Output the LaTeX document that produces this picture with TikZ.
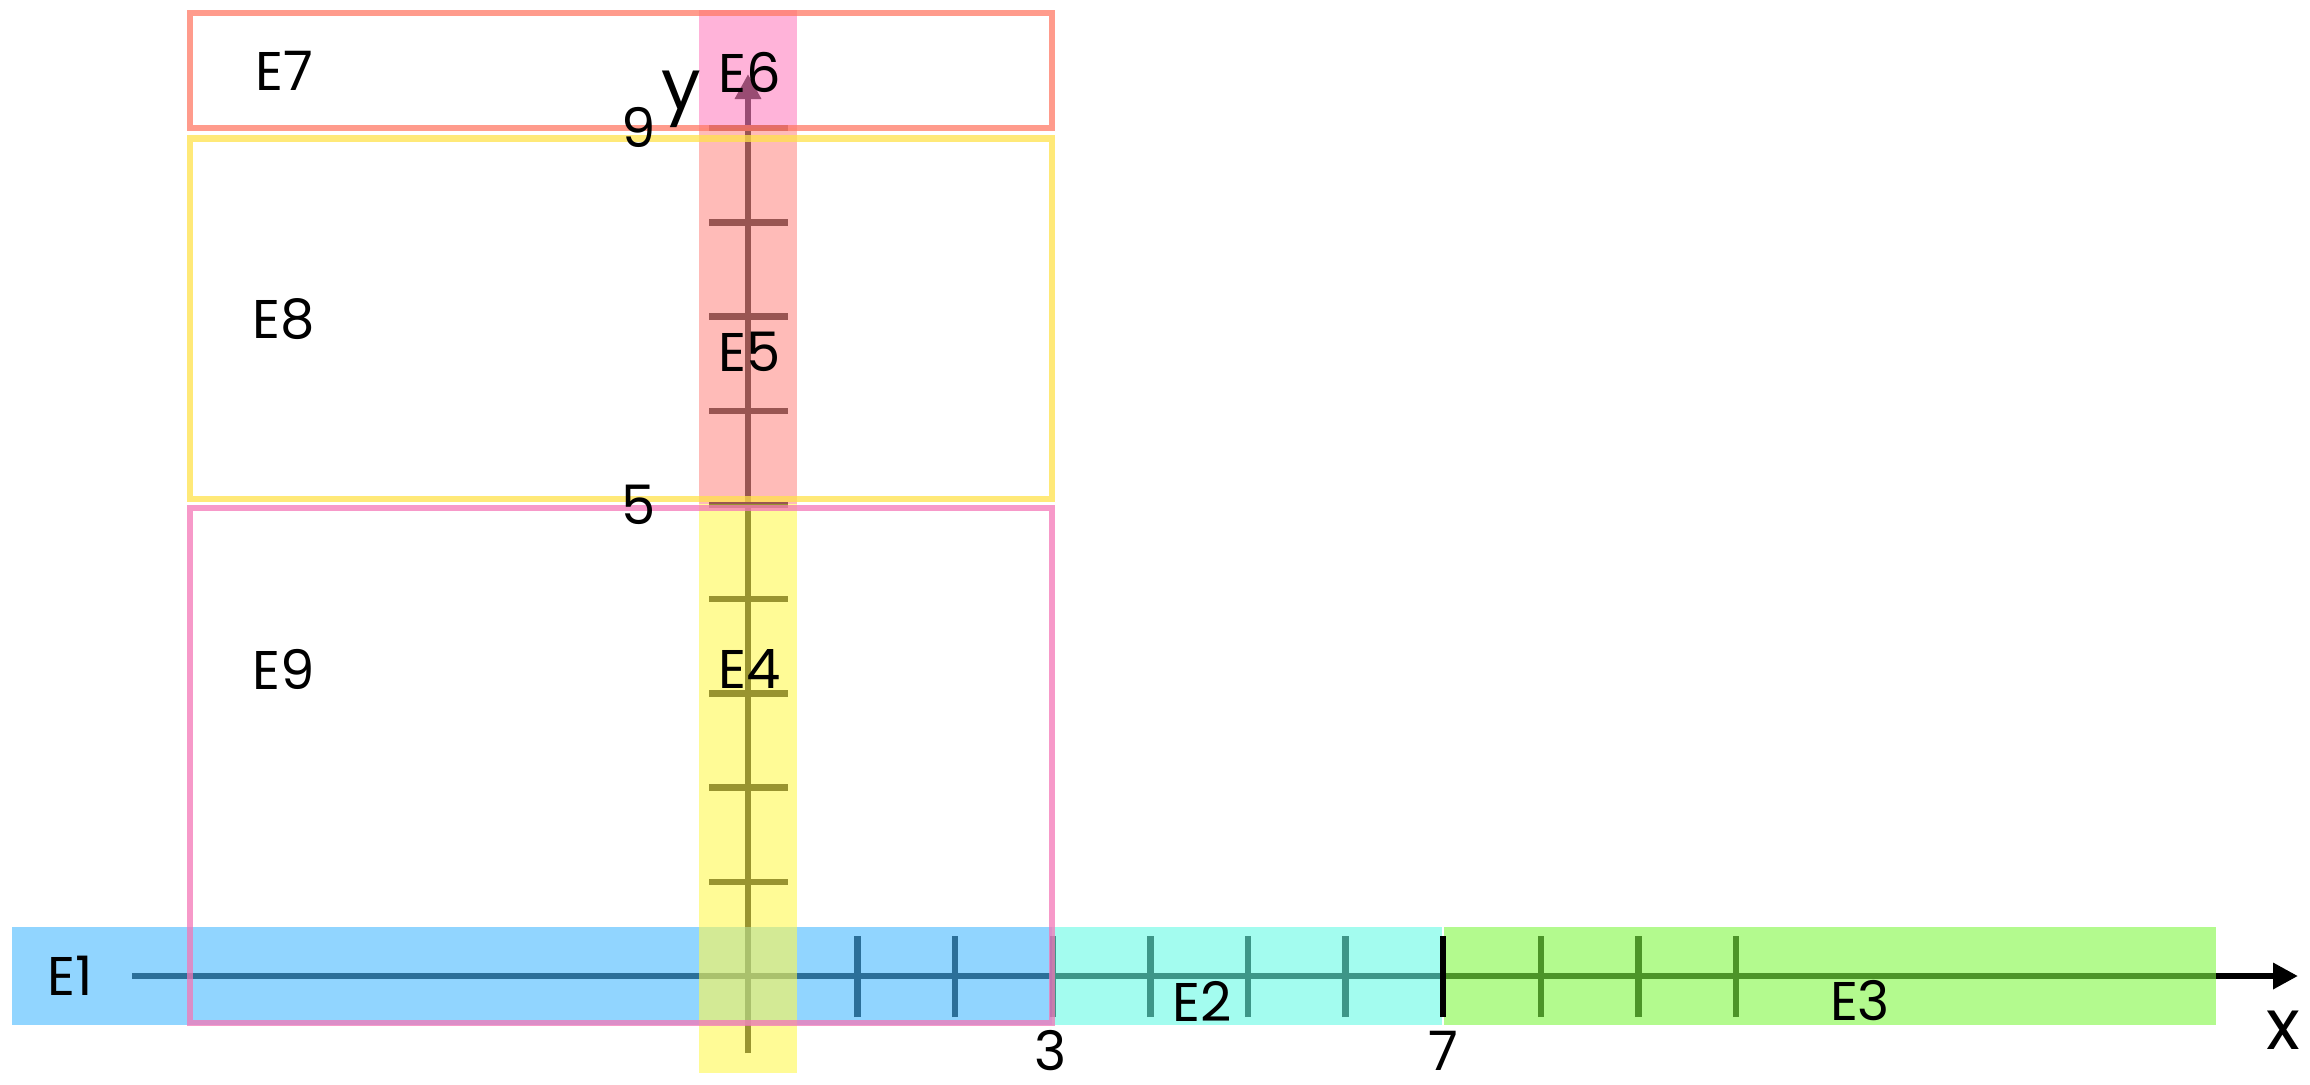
\documentclass[tikz,border=0pt]{standalone}
\usepackage{fontspec}
\setmainfont{Poppins}
\usepackage{xcolor}
\usetikzlibrary{arrows.meta}

\definecolor{eoneblue}{RGB}{72,185,255}
\definecolor{etwocyan}{RGB}{102,250,228}
\definecolor{ethreegreen}{RGB}{128,247,67}
\definecolor{efouryellow}{RGB}{255,248,80}
\definecolor{efivesalmon}{RGB}{255,142,137}
\definecolor{esixpink}{RGB}{255,128,192}
\definecolor{esevenline}{RGB}{255,121,101}
\definecolor{eeightline}{RGB}{255,225,75}
\definecolor{enineline}{RGB}{244,119,183}

\begin{document}
\begin{tikzpicture}[
  every node/.style={font=\fontsize{15.5}{18}\selectfont, inner sep=0pt},
  region/.style={fill opacity=0.6},
  boxline/.style={line width=1.9pt, draw opacity=0.75},
  axis/.style={line width=1.8pt, black, -{Triangle[length=2.5mm,width=2.5mm]}},
  tickline/.style={line width=1.8pt, black},
  axlabel/.style={font=\fontsize{20}{24}\selectfont},
]
\useasboundingbox (0,0) rectangle (23.1,10.84);

% axes and ticks
\coordinate (xstart) at (1.32,1.08);
\coordinate (xend) at (22.98,1.08);
\coordinate (ystart) at (7.48,0.31);
\coordinate (yend) at (7.48,10.10);
\draw[axis] (xstart) -- (xend);
\draw[axis] (ystart) -- (yend);
\foreach \k in {1,...,10}
  \draw[tickline] ({7.60+0.976*\k},0.67) -- ({7.60+0.976*\k},1.48);
\foreach \k in {1,...,9}
  \draw[tickline] (7.09,{1.08+0.942*\k}) -- (7.88,{1.08+0.942*\k});

% regions
\fill[region, eoneblue] (0.12,0.59) rectangle (10.52,1.57);
\fill[region, etwocyan] (10.52,0.59) rectangle (14.42,1.57);
\fill[region, ethreegreen] (14.44,0.59) rectangle (22.16,1.57);
\fill[region, efouryellow] (6.99,0.11) rectangle (7.97,5.80);
\fill[region, efivesalmon] (6.99,5.80) rectangle (7.97,9.56);
\fill[region, esixpink] (6.99,9.56) rectangle (7.97,10.74);

\draw[boxline, esevenline] (1.90,9.56) rectangle (10.52,10.71);
\draw[boxline, eeightline] (1.90,5.85) rectangle (10.52,9.455);
\draw[boxline, enineline] (1.90,0.61) rectangle (10.52,5.76);

\draw[tickline] (14.43,0.67) -- (14.43,1.48);

% labels
\node (e1) at (0.70,1.08) {E1};
\node (e2) at (12.02,0.83) {E2};
\node (e3) at (18.60,0.83) {E3};
\node (e4) at (7.50,4.15) {E4};
\node (e5) at (7.50,7.32) {E5};
\node (e6) at (7.50,10.12) {E6};
\node (e7) at (2.84,10.13) {E7};
\node (e8) at (2.84,7.65) {E8};
\node (e9) at (2.84,4.15) {E9};

\node (nine) at (6.39,9.57) {9};
\node (five) at (6.39,5.79) {5};
\node (three) at (10.51,0.33) {3};
\node (seven) at (14.43,0.33) {7};
\node[axlabel] (xlab) at (22.83,0.54) {x};
\node[axlabel, anchor=base] (ylab) at (6.81,9.75) {y};

\end{tikzpicture}
\end{document}
